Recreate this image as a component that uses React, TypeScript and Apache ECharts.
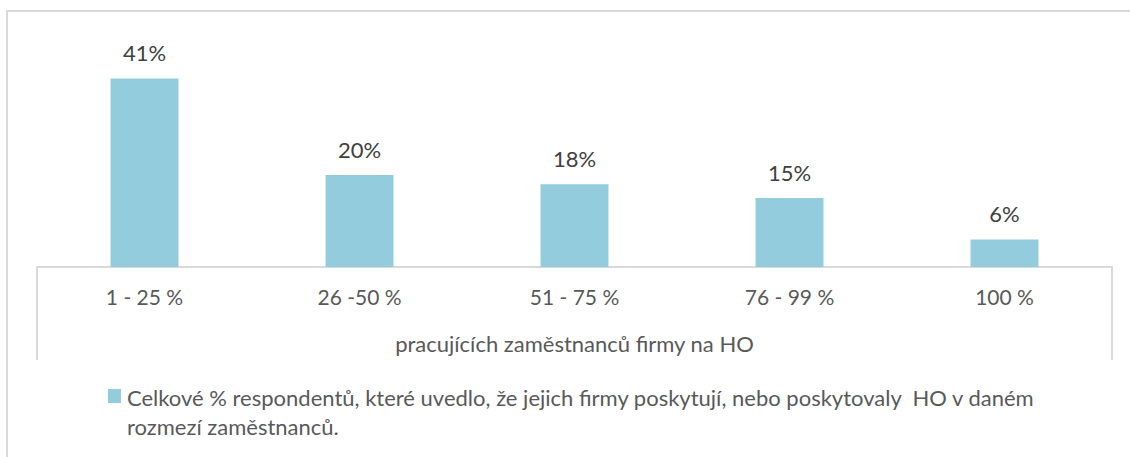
import React, { useEffect, useRef } from "react";
import * as echarts from "echarts";

const categories = ["1 - 25 %", "26 -50 %", "51 - 75 %", "76 - 99 %", "100 %"];
const values = [41, 20, 18, 15, 6];
const seriesName =
  "Celkové % respondentů, které uvedlo, že jejich firmy poskytují, nebo poskytovaly  HO v daném\nrozmezí zaměstnanců.";
const axisName = "pracujících zaměstnanců firmy na HO";

const FONT = "Lato, 'Open Sans', sans-serif";
const GRID_LEFT = 37;
const GRID_RIGHT = 18;
const AXIS_Y = 267;

export default function App() {
  const ref = useRef<HTMLDivElement>(null);
  useEffect(() => {
    if (!ref.current) return;
    const chart = echarts.init(ref.current, undefined, { renderer: "svg" });
    const W = 1130;
    chart.setOption({
      animation: false,
      backgroundColor: "#ffffff",
      grid: { left: GRID_LEFT, right: GRID_RIGHT, top: 37, bottom: 457 - AXIS_Y },
      xAxis: {
        type: "category",
        data: categories,
        axisLine: { show: true, lineStyle: { color: "#d9d9d9", width: 2 } },
        axisTick: { show: false },
        axisLabel: { color: "#595959", fontSize: 21, fontFamily: FONT, margin: 19 },
        name: axisName,
        nameLocation: "middle",
        nameGap: 65,
        nameTextStyle: { color: "#595959", fontSize: 22, fontFamily: FONT },
      },
      yAxis: {
        type: "value",
        min: 0,
        max: 50,
        show: false,
        splitLine: { show: false },
      },
      series: [
        {
          type: "bar",
          name: seriesName,
          data: values,
          barWidth: "31.6%",
          itemStyle: { color: "#93cddd" },
          label: {
            show: true,
            position: "top",
            distance: 15,
            formatter: "{c}%",
            color: "#404040",
            fontSize: 22,
            fontFamily: FONT,
          },
        },
      ],
      graphic: [
        {
          type: "line",
          shape: { x1: 7, y1: 10, x2: 7, y2: 457 },
          style: { stroke: "#d9d9d9", lineWidth: 2 },
        },
        {
          type: "line",
          shape: { x1: 6, y1: 11, x2: W, y2: 11 },
          style: { stroke: "#d9d9d9", lineWidth: 2 },
        },
        {
          type: "line",
          shape: { x1: GRID_LEFT, y1: AXIS_Y, x2: GRID_LEFT, y2: 360 },
          style: { stroke: "#d9d9d9", lineWidth: 2 },
        },
        {
          type: "line",
          shape: { x1: W - GRID_RIGHT, y1: AXIS_Y, x2: W - GRID_RIGHT, y2: 360 },
          style: { stroke: "#d9d9d9", lineWidth: 2 },
        },
        {
          type: "rect",
          shape: { x: 108, y: 389, width: 13, height: 14 },
          style: { fill: "#93cddd" },
        },
        {
          type: "text",
          x: 127,
          y: 383,
          style: {
            text: seriesName,
            fill: "#595959",
            fontSize: 22,
            fontFamily: FONT,
            lineHeight: 29,
          },
        },
      ],
    });
    return () => chart.dispose();
  }, []);
  return <div ref={ref} style={{ width: 1130, height: 457, position: "absolute", left: 0, top: 0 }} />;
}
